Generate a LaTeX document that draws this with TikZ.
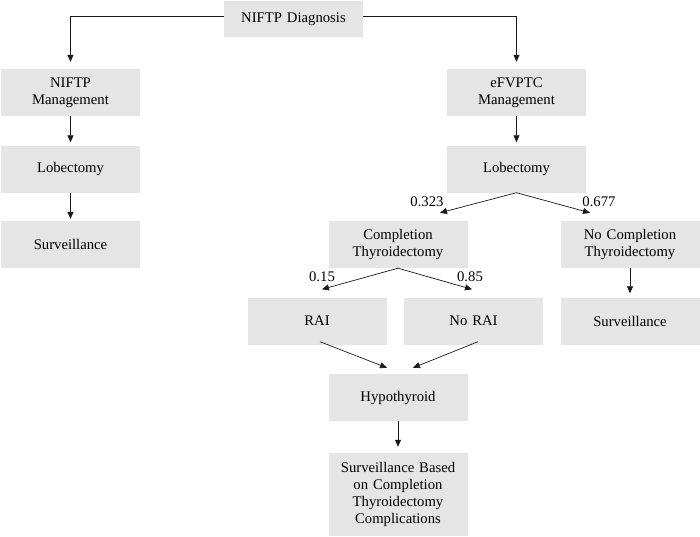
\documentclass[tikz,border=0pt]{standalone}
\usepackage{fontspec}
\setmainfont{Liberation Serif}
\usepackage{tikz}
\RequirePackage{xcolor}
\definecolor{box-gray}{gray}{0.9}
\definecolor{line-gray}{gray}{0.1}
\usetikzlibrary{arrows.meta, calc}

\begin{document}
\begin{tikzpicture}[x=1pt,y=1pt]
  \tikzstyle{box} = [fill=box-gray, minimum width=139pt, minimum height=47pt, text width=135pt, align=center, inner sep=0pt, font=\fontsize{14.7}{17}\selectfont]
  \tikzstyle{arr} = [-{Triangle[length=7pt,width=6pt]}, draw=line-gray, line width=0.7pt]
  \tikzstyle{prob} = [anchor=base, inner sep=0pt, font=\fontsize{14.7}{17}\selectfont]
  %Define column positions.
    \def\xl{70.5}          %left branch.
    \def\xr{516.5}         %right branch.
    \def\xc{398}           %completion branch.
  \useasboundingbox (0,0) rectangle (700,-536);
% Boxes
    \node[box, minimum height=36pt] (diag) at (293.5,-19) {NIFTP Diagnosis};
    \node[box] (mgmtL) at (\xl,-92.5) {NIFTP\\Management};
    \node[box] (lobL) at (\xl,-169) {Lobectomy};
    \node[box] (survL) at (\xl,-244.5) {Surveillance};
    \node[box] (mgmtR) at (\xr,-92.5) {eFVPTC\\Management};
    \node[box] (lobR) at (\xr,-169) {Lobectomy};
    \node[box] (comp) at (\xc,-244.5) {Completion\\Thyroidectomy};
    \node[box] (nocomp) at (630,-244.5) {No Completion\\Thyroidectomy};
    \node[box] (rai) at (317,-321) {RAI};
    \node[box] (norai) at (473.5,-321) {No RAI};
    \node[box] (survR) at (630,-321) {Surveillance};
    \node[box] (hypo) at (\xc,-397.5) {Hypothyroid};
    \node[box, minimum height=83pt] (survB) at (\xc,-494.5) {Surveillance Based\\on Completion\\Thyroidectomy\\Complications};
% Probabilities
    \node[prob] (p323) at (427,-206) {0.323};
    \node[prob] (p677) at (599,-206) {0.677};
    \node[prob] (p15) at (322,-281) {0.15};
    \node[prob] (p85) at (470,-281) {0.85};
% Arrows
    \draw[arr, shorten >=7pt] ([yshift=3pt]diag.west) -| (mgmtL.north);
    \draw[arr, shorten >=7pt] ([yshift=3pt]diag.east) -| (mgmtR.north);
    \draw[arr, shorten >=3pt] (mgmtL) -- (lobL);
    \draw[arr, shorten >=2pt] (lobL) -- (survL);
    \draw[arr, shorten >=3pt] (mgmtR) -- (lobR);
    \draw[arr] (lobR.south) -- ($(comp.north)+(42,8)$);
    \draw[arr] (lobR.south) -- ($(nocomp.north)+(-40,8)$);
    \draw[arr] (comp.south) -- ($(rai.north)+(5,8)$);
    \draw[arr] (comp.south) -- ($(norai.north)+(-1.5,8)$);
    \draw[arr, shorten >=4pt] (nocomp) -- (survR);
    \draw[arr] ($(rai.south)+(3,3)$) -- ($(hypo.north)+(-11,6)$);
    \draw[arr] ($(norai.south)+(4.5,3)$) -- ($(hypo.north)+(15,6)$);
    \draw[arr, shorten >=6pt] (hypo) -- (survB);
\end{tikzpicture}
\end{document}
